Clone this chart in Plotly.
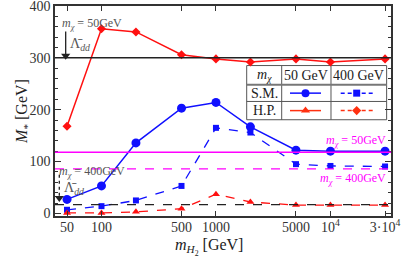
import plotly.graph_objects as go

m_H2 = [50, 100, 200, 500, 1000, 2000, 5000, 10000, 30000]
sm_50 = [27, 53, 136, 203, 214, 167, 122, 120, 120]
sm_400 = [7, 14, 25, 53, 165, 156, 95, 91.5, 90.5]
hp_50 = [168, 356, 350, 306, 298, 292, 298, 292, 298]
hp_400 = [1, 1, 3, 9, 37, 22, 16, 16, 16]
lam_50 = 300
lam_400 = 17
mchi_50 = 118
mchi_400 = 86
x_tickvals = [50, 100, 500, 1000, 5000, 10000, 30000]
x_ticktext = ["50", "100", "500", "1000", "5000", "10<sup>4</sup>", "3·10<sup>4</sup>"]

BLUE = "#1010ff"
RED = "#ff1010"
MAG = "#ff00ff"
FONT = "Liberation Serif, DejaVu Serif, serif"

fig = go.Figure()

# horizontal reference lines
fig.add_hline(y=lam_50, line=dict(color="#222", width=1.5))
fig.add_hline(y=lam_400, line=dict(color="#222", width=1.3, dash="dash"))
fig.add_hline(y=mchi_50, line=dict(color=MAG, width=1.5))
fig.add_hline(y=mchi_400, line=dict(color=MAG, width=1.3, dash="dash"))

# Legend table background (below traces)
X0, X1, X2, X3 = 0.5705, 0.6747, 0.8214, 0.987
Y0, Y1, Y2, Y3 = 0.7164, 0.6247, 0.5454, 0.4584
fig.add_shape(type="rect", xref="paper", yref="paper", x0=X0, x1=X3, y0=Y3, y1=Y0,
              fillcolor="white", line=dict(color="#555", width=1), layer="below")
for xx in (X1, X2):
    fig.add_shape(type="line", xref="paper", yref="paper", x0=xx, x1=xx, y0=Y3, y1=Y0,
                  line=dict(color="#555", width=1), layer="below")
fig.add_shape(type="line", xref="paper", yref="paper", x0=X0, x1=X3, y0=Y1, y1=Y1,
              line=dict(color="#777", width=2), layer="below")
fig.add_shape(type="line", xref="paper", yref="paper", x0=X0, x1=X3, y0=Y2, y1=Y2,
              line=dict(color="#555", width=1), layer="below")

fig.add_trace(go.Scatter(x=m_H2, y=hp_50, mode="lines+markers",
                         line=dict(color=RED, width=1.5),
                         marker=dict(symbol="diamond", size=7, color=RED)))
fig.add_trace(go.Scatter(x=m_H2, y=sm_50, mode="lines+markers",
                         line=dict(color=BLUE, width=1.5),
                         marker=dict(symbol="circle", size=9, color=BLUE)))
fig.add_trace(go.Scatter(x=m_H2, y=sm_400, mode="lines+markers",
                         line=dict(color=BLUE, width=1.3, dash="dash"),
                         marker=dict(symbol="square", size=6, color=BLUE)))
fig.add_trace(go.Scatter(x=m_H2, y=hp_400, mode="lines+markers",
                         line=dict(color=RED, width=1.3, dash="dash"),
                         marker=dict(symbol="triangle-up", size=7, color=RED)))


def txt(x, y, t, size=13, color="#222", xanchor="center", yanchor="middle", angle=0):
    fig.add_annotation(x=x, y=y, xref="paper", yref="paper", text=t, showarrow=False,
                       xanchor=xanchor, yanchor=yanchor, textangle=angle,
                       font=dict(family=FONT, size=size, color=color))


txt((X0 + X1) / 2, (Y0 + Y1) / 2, "<i>m</i><sub><i>χ</i></sub>", 14)
txt((X1 + X2) / 2, (Y0 + Y1) / 2, "50 GeV", 14)
txt((X2 + X3) / 2, (Y0 + Y1) / 2, "400 GeV", 14)
txt((X0 + X1) / 2, (Y1 + Y2) / 2, "S.M.", 14)
txt((X0 + X1) / 2, (Y2 + Y3) / 2, "H.P.", 14)

ry1 = (Y1 + Y2) / 2
ry2 = (Y2 + Y3) / 2
leg = [
    (0.6994, 0.7917, ry1, BLUE, "solid", "circle", 8),
    (0.8503, 0.9455, ry1, BLUE, "4px,3px", "square", 7),
    (0.6994, 0.7917, ry2, "#ff3010", "solid", "triangle-up", 8),
    (0.8503, 0.9455, ry2, "#ff3010", "4px,3px", "diamond", 7),
]
for a, b, yy, c, d, s, sz in leg:
    fig.add_trace(go.Scatter(x=[a, b], y=[yy, yy], xaxis="x2", yaxis="y2", mode="lines",
                             line=dict(color=c, width=1.5, dash=d)))
    fig.add_trace(go.Scatter(x=[(a + b) / 2], y=[yy], xaxis="x2", yaxis="y2", mode="markers",
                             marker=dict(symbol=s, size=sz, color=c)))

# Λdd arrows
fig.add_shape(type="line", xref="paper", yref="paper", x0=0.0318, x1=0.0318,
              y0=0.878, y1=0.765, line=dict(color="#222", width=1.3))
fig.add_trace(go.Scatter(x=[0.0318], y=[0.763], xaxis="x2", yaxis="y2", mode="markers",
                         marker=dict(symbol="triangle-down", size=8, color="#222")))
fig.add_shape(type="line", xref="paper", yref="paper", x0=0.0128, x1=0.0128,
              y0=0.197, y1=0.088, line=dict(color="#222", width=1.3, dash="dot"))
fig.add_trace(go.Scatter(x=[0.0128], y=[0.086], xaxis="x2", yaxis="y2", mode="markers",
                         marker=dict(symbol="triangle-down", size=8, color="#222")))

GRAY = "#555"
txt(0.016, 0.915, "<i>m</i><sub><i>χ</i></sub> = 50GeV", 12, GRAY, xanchor="left")
txt(0.038, 0.815, "Λ̄<sub><i>dd</i></sub>", 14, GRAY, xanchor="left")
txt(0.006, 0.208, "<i>m</i><sub><i>χ</i></sub> = 400GeV", 12, GRAY, xanchor="left")
txt(0.021, 0.13, "Λ̄<sub><i>dd</i></sub>", 14, GRAY, xanchor="left")

txt(0.99, 0.357, "<i>m</i><sub><i>χ</i></sub> = 50GeV", 12, MAG, xanchor="right")
txt(0.99, 0.178, "<i>m</i><sub><i>χ</i></sub> = 400GeV", 12, MAG, xanchor="right")

# axis titles
txt(-0.095, 0.496, "<i>M</i><sub>*</sub> [GeV]", 16, angle=-90)
txt(0.458, -0.148, "<i>m</i><sub><i>H</i><sub>2</sub></sub> [GeV]", 16)

axis_common = dict(showline=True, linecolor="#333", linewidth=1.5, mirror="allticks",
                   ticks="inside", tickcolor="#333", showgrid=False, zeroline=False,
                   automargin=False, ticklabeloverflow="allow",
                   tickfont=dict(family=FONT, size=14, color="#333"))

fig.update_layout(
    width=415, height=267,
    margin=dict(l=55, r=24, t=6, b=50.5),
    paper_bgcolor="white", plot_bgcolor="white",
    showlegend=False,
    xaxis=dict(type="log", range=[1.594, 4.529], tickvals=x_tickvals, ticktext=x_ticktext,
               ticklen=5, ticklabelstandoff=-3, **axis_common),
    yaxis=dict(range=[-5, 400], tickvals=[0, 100, 200, 300, 400], ticklen=6,
               minor=dict(dtick=20, ticks="inside", ticklen=3, tickcolor="#333"),
               **axis_common),
    xaxis2=dict(overlaying="x", range=[0, 1], visible=False, anchor="y2"),
    yaxis2=dict(overlaying="y", range=[0, 1], visible=False, anchor="x2"),
)

fig.write_html("out.html", config={"displayModeBar": False},
               post_script="document.body.style.margin='0';")
